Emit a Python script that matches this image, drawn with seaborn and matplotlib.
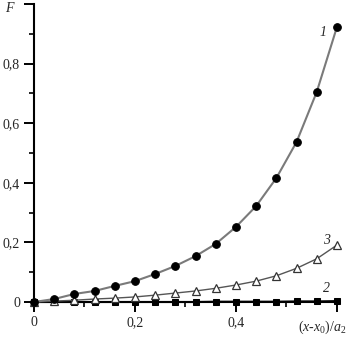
import numpy as np
import pandas as pd
import matplotlib
matplotlib.use("Agg")
import matplotlib.pyplot as plt
import seaborn as sns
from matplotlib.ticker import MultipleLocator

# data
x = [0.0, 0.04, 0.08, 0.12, 0.16, 0.20, 0.24, 0.28, 0.32, 0.36, 0.40, 0.44, 0.48, 0.52, 0.56, 0.60]
f1 = [0.0, 0.010, 0.027, 0.037, 0.054, 0.070, 0.094, 0.121, 0.154, 0.195, 0.252, 0.322, 0.416, 0.537, 0.705, 0.923]
f2 = [0.0, 0.0, 0.0, 0.0, 0.0, 0.0, 0.0, 0.0, 0.0, 0.001, 0.001, 0.001, 0.001, 0.002, 0.002, 0.003]
f3 = [0.0, 0.003, 0.006, 0.010, 0.013, 0.017, 0.023, 0.030, 0.037, 0.046, 0.057, 0.070, 0.088, 0.113, 0.145, 0.191]

df = pd.DataFrame({"x": x, "f1": f1, "f2": f2, "f3": f3})

sns.set_style("ticks")
plt.rcParams['font.family'] = ['Liberation Serif', 'DejaVu Serif']
plt.rcParams['mathtext.fontset'] = 'custom'
plt.rcParams['mathtext.rm'] = 'Liberation Serif'
plt.rcParams['mathtext.it'] = 'Liberation Serif:italic'

fig = plt.figure(figsize=(3.47, 3.38), dpi=100)
ax = fig.add_axes([0.098, 0.1065, 0.873, 0.8815])

# curve 2 (squares), curve 3 (open triangles), curve 1 (circles)
sns.lineplot(data=df, x="x", y="f2", ax=ax, color="black", lw=1.5,
             marker="s", markersize=4.5, markeredgecolor="black", clip_on=False, zorder=3)
sns.lineplot(data=df, x="x", y="f3", ax=ax, color="#555555", lw=1.0,
             marker="^", markersize=5.5, markerfacecolor="white", markeredgecolor="#333333",
             markeredgewidth=0.9, clip_on=False, zorder=4)
sns.lineplot(data=df, x="x", y="f1", ax=ax, color="#7a7a7a", lw=1.5,
             marker="o", markersize=5.5, markerfacecolor="black", markeredgecolor="black",
             clip_on=False, zorder=5)

ax.set_xlim(0, 0.6)
ax.set_ylim(0, 1.0)
sns.despine(ax=ax)
for s in ["left", "bottom"]:
    ax.spines[s].set_linewidth(1.5)
    ax.spines[s].set_color("black")

ax.xaxis.set_major_locator(MultipleLocator(0.2))
ax.xaxis.set_minor_locator(MultipleLocator(0.1))
ax.yaxis.set_major_locator(MultipleLocator(0.2))
ax.yaxis.set_minor_locator(MultipleLocator(0.1))
ax.tick_params(which="major", length=7, width=1.4, color="black", labelsize=10, pad=3)
ax.tick_params(which="minor", length=3.5, width=1.2, color="black")

ax.set_xticks([0, 0.2, 0.4, 0.6])
ax.set_xticklabels(["0", "0,2", "0,4", ""])
ax.set_yticks([0, 0.2, 0.4, 0.6, 0.8, 1.0])
ax.set_yticklabels(["0", "0,2", "0,4", "0,6", "0,8", ""])
ax.set_xlabel("")
ax.set_ylabel("")

ax.text(-0.095, 0.985, "F", transform=ax.transAxes, fontsize=10, style="italic",
        ha="left", va="center")
ax.text(1.03, -0.085, r"$(x$-$x_0)/a_2$", transform=ax.transAxes, fontsize=10,
        ha="right", va="center")

ax.text(0.573, 0.903, "1", fontsize=10, style="italic", ha="center", va="center")
ax.text(0.579, 0.208, "3", fontsize=10, style="italic", ha="center", va="center")
ax.text(0.579, 0.044, "2", fontsize=10, style="italic", ha="center", va="center")

fig.savefig("out.png", dpi=100)
